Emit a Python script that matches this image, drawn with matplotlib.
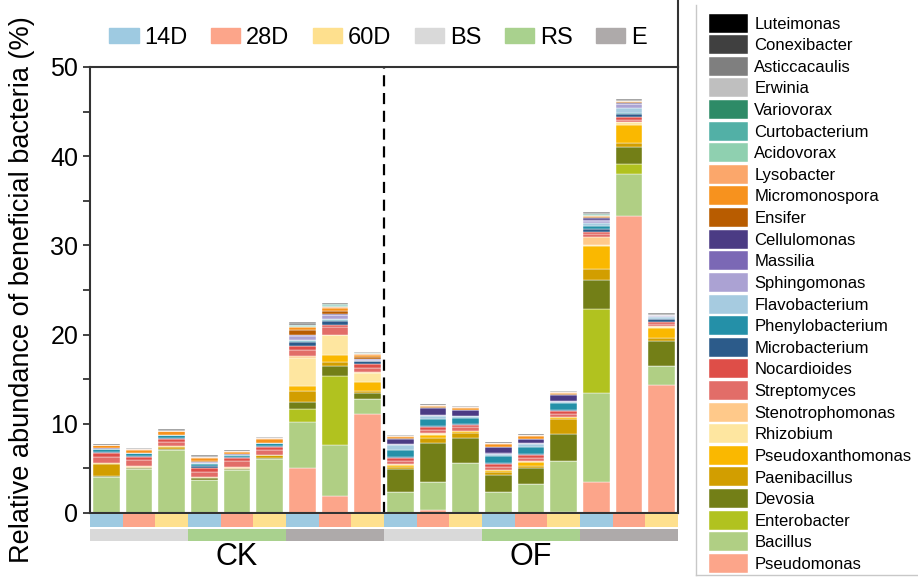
import numpy as np
import matplotlib
matplotlib.use('Agg')
import matplotlib.pyplot as plt
from matplotlib.patches import Patch
from matplotlib.lines import Line2D

plt.rcParams['font.family'] = ['Liberation Sans', 'DejaVu Sans']

# sample layout: CK then OF, each BS / RS / E, each 14D / 28D / 60D
days = ['14D', '28D', '60D'] * 6
sites = ['BS', 'RS', 'E', 'BS', 'RS', 'E']
treatments = ['CK', 'OF']

day_colors = {'14D': '#9ECAE1', '28D': '#FCA58A', '60D': '#FEE08E'}
site_colors = {'BS': '#D9D9D9', 'RS': '#A9D18E', 'E': '#AEAAAA'}

# relative abundance (%) of each genus, 18 samples
pseudomonas = [0, 0, 0, 0, 0, 0, 5.1, 1.85, 11.1, 0, 0.3, 0, 0, 0, 0.15, 3.5, 33.3, 14.4]
bacillus = [4.05, 4.9, 7.05, 3.75, 4.8, 6.0, 5.1, 5.8, 1.7, 2.3, 3.2, 5.6, 2.4, 3.2, 5.7, 10.0, 4.75, 2.1]
enterobacter = [0, 0, 0, 0, 0, 0, 1.5, 7.75, 0, 0, 0, 0, 0, 0, 0, 9.35, 1.1, 0]
devosia = [0.1, 0.15, 0.1, 0.12, 0.15, 0.2, 0.8, 1.1, 0.7, 2.6, 4.3, 2.85, 1.85, 1.8, 3.05, 3.25, 1.9, 2.8]
paenibacillus = [1.3, 0.15, 0.3, 0.12, 0.15, 0.25, 1.2, 0.4, 0.2, 0.3, 0.65, 0.5, 0.3, 0.25, 1.6, 1.25, 0.45, 0.35]
pseudoxanthomonas = [0.1, 0, 0.05, 0.05, 0, 0.05, 0.5, 0.8, 1.0, 0.2, 0.35, 0.2, 0.25, 0.5, 0.25, 2.55, 2.05, 1.1]
rhizobium = [0, 0, 0, 0, 0, 0, 3.2, 2.2, 1.0, 0, 0.1, 0, 0, 0, 0, 0.2, 0.25, 0.15]
stenotrophomonas = [0.1, 0.05, 0, 0, 0.05, 0, 0.15, 0.1, 0.1, 0.1, 0.05, 0.05, 0, 0.05, 0.05, 0.85, 0.05, 0.05]
streptomyces = [0.6, 0.7, 0.5, 0.6, 0.65, 0.6, 0.7, 0.8, 0.5, 0.35, 0.4, 0.4, 0.35, 0.4, 0.35, 0.35, 0.25, 0.25]
nocardioides = [0.45, 0.35, 0.35, 0.45, 0.35, 0.35, 0.45, 0.3, 0.45, 0.3, 0.25, 0.3, 0.3, 0.3, 0.3, 0.2, 0.25, 0.25]
microbacterium = [0.1, 0.08, 0.08, 0.15, 0.08, 0.08, 0.45, 0.45, 0.25, 0.1, 0.1, 0.1, 0.1, 0.1, 0.1, 0.35, 0.4, 0.25]
phenylobacterium = [0.35, 0.3, 0.3, 0.3, 0.28, 0.3, 0.15, 0.1, 0.05, 0.8, 0.8, 0.7, 0.8, 0.8, 0.8, 0.35, 0.05, 0.05]
flavobacterium = [0.03, 0.04, 0, 0.05, 0.04, 0, 0.1, 0.05, 0, 0.55, 0.35, 0.15, 0.25, 0.35, 0.15, 0.3, 0.65, 0.2]
sphingomonas = [0.03, 0, 0, 0.05, 0, 0, 0.4, 0.5, 0.1, 0.1, 0.1, 0.05, 0.05, 0.05, 0.05, 0.2, 0.35, 0.1]
massilia = [0, 0, 0, 0.05, 0, 0, 0.1, 0.05, 0.1, 0.05, 0.05, 0, 0.05, 0, 0, 0.1, 0.1, 0.05]
cellulomonas = [0.03, 0.04, 0.05, 0.08, 0.05, 0.05, 0.1, 0.05, 0.05, 0.6, 0.8, 0.6, 0.7, 0.5, 0.7, 0.25, 0.1, 0.05]
ensifer = [0.03, 0, 0, 0.05, 0, 0, 0.5, 0.35, 0.2, 0.05, 0.05, 0.05, 0.05, 0.05, 0.05, 0.15, 0.1, 0.05]
micromonospora = [0.3, 0.35, 0.4, 0.35, 0.25, 0.4, 0.3, 0.35, 0.25, 0.2, 0.2, 0.25, 0.3, 0.3, 0.2, 0.1, 0.05, 0.05]
lysobacter = [0.05, 0.05, 0.05, 0.1, 0.05, 0.1, 0.1, 0.1, 0.05, 0.05, 0.05, 0.05, 0.05, 0.05, 0.05, 0.05, 0.05, 0]
acidovorax = [0, 0, 0, 0, 0, 0, 0.1, 0.15, 0.1, 0, 0, 0, 0, 0, 0, 0.05, 0, 0]
curtobacterium = [0, 0, 0, 0, 0, 0, 0.1, 0.1, 0.05, 0, 0, 0, 0, 0, 0, 0.05, 0, 0]
variovorax = [0, 0, 0, 0, 0, 0, 0.03, 0.03, 0, 0, 0, 0, 0, 0, 0, 0.03, 0, 0]
erwinia = [0, 0, 0, 0, 0, 0, 0, 0, 0, 0, 0, 0, 0, 0, 0, 0.03, 0.03, 0]
asticcacaulis = [0.05, 0.1, 0.1, 0.1, 0.1, 0.12, 0.2, 0.1, 0.1, 0.05, 0.05, 0.1, 0.1, 0.1, 0.1, 0.15, 0.1, 0.1]
conexibacter = [0.1, 0.06, 0.07, 0.08, 0.05, 0.06, 0.05, 0.05, 0, 0.05, 0.05, 0.05, 0.05, 0.05, 0.05, 0.05, 0.05, 0.05]
luteimonas = [0, 0, 0, 0, 0, 0, 0, 0, 0, 0.05, 0, 0, 0, 0, 0, 0, 0.05, 0]

# stacking order, bottom first
genera = ['Pseudomonas', 'Bacillus', 'Enterobacter', 'Devosia', 'Paenibacillus',
          'Pseudoxanthomonas', 'Rhizobium', 'Stenotrophomonas', 'Streptomyces',
          'Nocardioides', 'Microbacterium', 'Phenylobacterium', 'Flavobacterium',
          'Sphingomonas', 'Massilia', 'Cellulomonas', 'Ensifer', 'Micromonospora',
          'Lysobacter', 'Acidovorax', 'Curtobacterium', 'Variovorax', 'Erwinia',
          'Asticcacaulis', 'Conexibacter', 'Luteimonas']
abundance = [pseudomonas, bacillus, enterobacter, devosia, paenibacillus,
             pseudoxanthomonas, rhizobium, stenotrophomonas, streptomyces,
             nocardioides, microbacterium, phenylobacterium, flavobacterium,
             sphingomonas, massilia, cellulomonas, ensifer, micromonospora,
             lysobacter, acidovorax, curtobacterium, variovorax, erwinia,
             asticcacaulis, conexibacter, luteimonas]
genus_colors = ['#FCA58A', '#B0CF84', '#B1C21F', '#737F17', '#D29E00',
                '#FAB800', '#FEE6A0', '#FFC98A', '#E26D68', '#DE4E48',
                '#2C5B8A', '#2490A8', '#A6CBE0', '#ABA2D3', '#7B68B5',
                '#4B3B84', '#B85C00', '#F7921E', '#FBA76B', '#8FD0B0',
                '#52B0A6', '#2E8B67', '#BFBFBF', '#7F7F7F', '#404040', '#000000']

W, H = 918, 581
fig = plt.figure(figsize=(W / 100, H / 100), dpi=100)

# main stacked bars
ax = fig.add_axes([90 / W, 1 - 513 / H, 588 / W, 446 / H])
x = np.arange(len(days))
bottom = np.zeros(len(days))
for name, vals, col in zip(genera, abundance, genus_colors):
    ax.bar(x, vals, 0.82, bottom=bottom, color=col, edgecolor='white',
           linewidth=0.3, label=name)
    bottom += np.array(vals)

ax.set_xlim(-0.5, 17.5)
ax.set_ylim(0, 50)
ax.set_xticks([])
ax.set_yticks(range(0, 51, 10))
ax.set_yticks(range(5, 50, 10), minor=True)
ax.tick_params(axis='y', which='both', direction='out', length=5, width=1.3,
               labelsize=18, color='#333333')
for s in ax.spines.values():
    s.set_linewidth(1.5)
    s.set_color('#333333')
ax.axvline(8.5, color='black', lw=1.6, ls=(0, (5, 3)))
ax.set_ylabel('Relative abundance of beneficial bacteria (%)', fontsize=19.5)
ax.yaxis.set_label_coords(-0.093, 0.5)

# sampling day strip
ax_day = fig.add_axes([90 / W, 1 - 527 / H, 588 / W, 13 / H])
ax_day.bar(x, 1, 1.0, color=[day_colors[d] for d in days])
ax_day.set_xlim(-0.5, 17.5)
ax_day.set_ylim(0, 1)
ax_day.axis('off')

# compartment strip
ax_site = fig.add_axes([90 / W, 1 - 541 / H, 588 / W, 12 / H])
site_x = np.arange(len(sites)) * 3 + 1
ax_site.bar(site_x, 1, 3.0, color=[site_colors[s] for s in sites])
ax_site.set_xlim(-0.5, 17.5)
ax_site.set_ylim(0, 1)
ax_site.axis('off')
for i, t in enumerate(treatments):
    ax_site.text(4 + 9 * i, -1.35, t, fontsize=22, ha='center', va='center')

# top legend for days and compartments
top_handles = [Patch(color=day_colors[d]) for d in ['14D', '28D', '60D']] + \
              [Patch(color=site_colors[s]) for s in ['BS', 'RS', 'E']]
top_labels = ['14D', '28D', '60D', 'BS', 'RS', 'E']
fig.legend(top_handles, top_labels, ncol=6, loc='center',
           bbox_to_anchor=(378 / W, 1 - 38 / H), frameon=False, fontsize=17,
           handlelength=1.25, handleheight=0.62, handletextpad=0.25,
           columnspacing=0.98, borderpad=0, borderaxespad=0)

# genus legend on the right
handles, labels = ax.get_legend_handles_labels()
fig.legend(handles[::-1], labels[::-1], loc='upper left',
           bbox_to_anchor=(709 / W, 1 - 13.5 / H), frameon=False, fontsize=12,
           handlelength=2.35, handleheight=1.38, labelspacing=0.155,
           handletextpad=0.36, borderpad=0, borderaxespad=0)

# frame lines
fig.add_artist(Line2D([678 / W, 678 / W], [1 - 67 / H, 1], color='#333333', lw=1.5))
fig.add_artist(Line2D([696 / W, 696 / W], [1 - 575 / H, 1 - 5 / H], color='#c8c8c8', lw=1))
fig.add_artist(Line2D([696 / W, 1], [1 - 575 / H, 1 - 575 / H], color='#c8c8c8', lw=1))

fig.savefig('out.png', dpi=100)
